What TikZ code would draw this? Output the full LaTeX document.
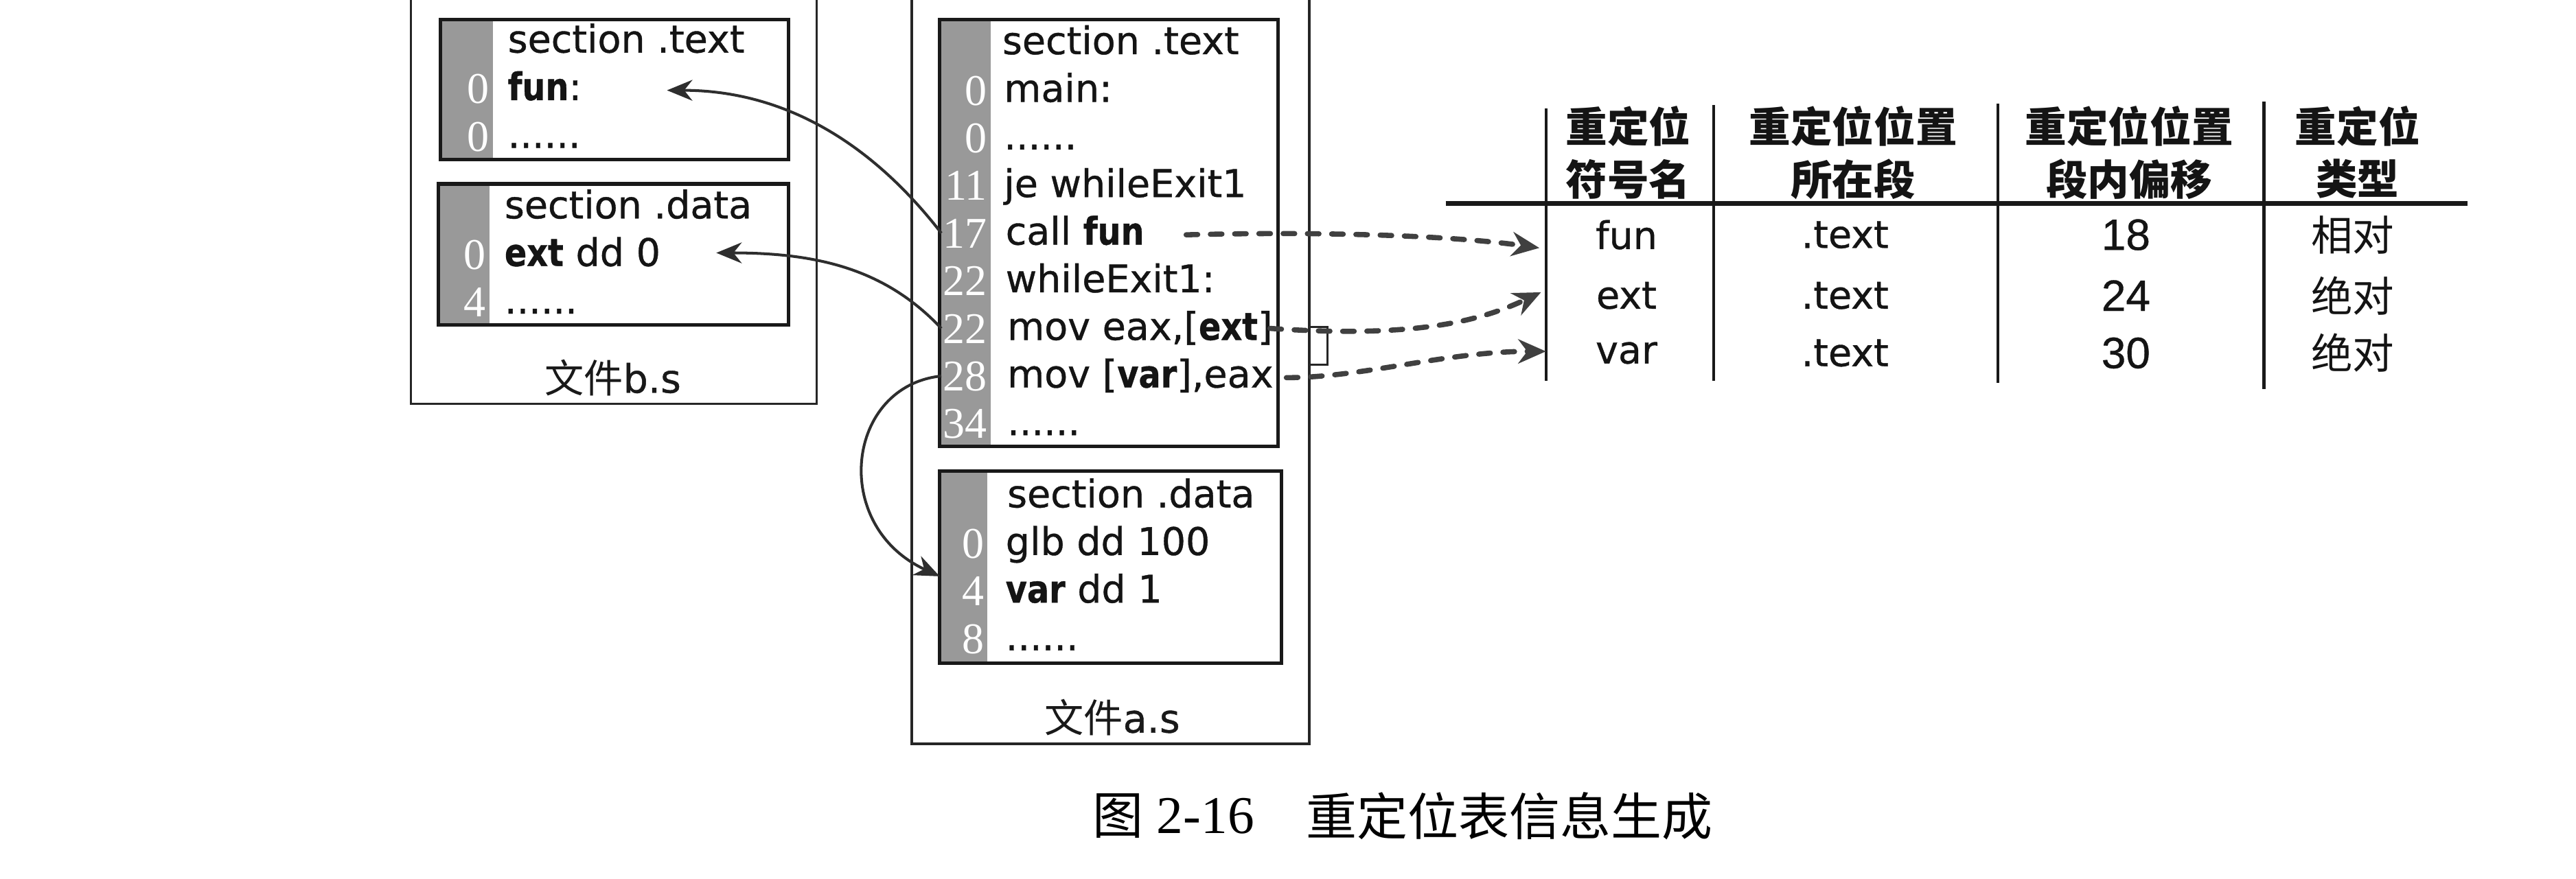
\documentclass[tikz,border=0pt]{standalone}
\usepackage{fontspec}
\usetikzlibrary{arrows.meta}
\setmainfont{DejaVu Sans}[FakeBold=0.7]
\newfontfamily\cjk{Noto Sans CJK SC}
\newfontfamily\numfont{Liberation Serif}
\newfontfamily\digfont{Liberation Sans}[FakeBold=0.6]
% narrow bold for highlighted symbols inside code lines
\newcommand\bsym[1]{\scalebox{0.86}[1]{\textbf{#1}}}

\tikzset{
  filebox/.style={draw=black!85, line width=2pt},
  secbox/.style={draw=black!90, line width=3pt},
  stripe/.style={fill=black!40},
  code/.style={anchor=base west, inner sep=0pt, text=black!92,
    font=\fontsize{33}{36}\selectfont},
  lineno/.style={anchor=base east, inner sep=0pt, text=white,
    font=\numfont\fontsize{38}{40}\selectfont},
  caplabel/.style={inner sep=0pt, text=black!90,
    font=\fontsize{34}{36}\selectfont},
  head/.style={inner sep=0pt, text=black!92,
    font=\cjk\bfseries\fontsize{36}{38}\selectfont},
  cell/.style={inner sep=0pt, text=black!92,
    font=\fontsize{33}{36}\selectfont},
  cjkcell/.style={inner sep=0pt, text=black!92,
    font=\cjk\fontsize{36}{38}\selectfont},
  numcell/.style={inner sep=0pt, text=black!92,
    font=\digfont\fontsize{38}{40}\selectfont},
  tabrule/.style={draw=black!90, line width=4pt},
  tabcol/.style={draw=black!90, line width=2.6pt},
  link/.style={draw=black!82, line width=2.4pt,
    -{Stealth[length=22pt,width=18pt]}},
  reloc/.style={draw=black!75, line width=4.5pt, line cap=round,
    dash pattern=on 10pt off 11pt,
    -{Stealth[length=24pt,width=21pt]}},
}

\begin{document}
\begin{tikzpicture}[x=0.5mm,y=-0.5mm]
\useasboundingbox (0,0) rectangle (1568,535);
\fill[white] (0,0) rectangle (1568,535);
\begin{scope}
\clip (0,0) rectangle (1568,535);

% ---------- file b.s ----------
\draw[filebox] (250,-10) rectangle (497,246);
\fill[stripe] (268,12) rectangle (300,97);
\draw[secbox] (268,12) rectangle (480,97);
\fill[stripe] (267,112) rectangle (298,198);
\draw[secbox] (267,112) rectangle (480,198);

\node[code] (bt0) at (309,32) {section .text};
\node[code] (bt1) at (309,61) {\bsym{fun}:};
\node[code] (bt2) at (309,90) {......};
\node[lineno] (bn1) at (298,63) {0};
\node[lineno] (bn2) at (298,92) {0};

\node[code] (bd0) at (307,133) {section .data};
\node[code] (bd1) at (307,162) {\bsym{ext} dd 0};
\node[code] (bd2) at (307,191) {......};
\node[lineno] (bm1) at (296,164) {0};
\node[lineno] (bm2) at (296,193) {4};

\node[caplabel] (bname) at (373,230) {{\cjk 文件}b.s};

% ---------- file a.s ----------
\draw[filebox] (555,-10) rectangle (797,453);
\fill[stripe] (572,12) rectangle (603,272);
\draw[secbox] (572,12) rectangle (778,272);
\fill[stripe] (572,287) rectangle (601,404);
\draw[secbox] (572,287) rectangle (780,404);

\node[code] (at0) at (610,33) {section .text};
\node[code] (at1) at (611,62) {main:};
\node[code] (at2) at (611,91) {......};
\node[code] (at3) at (611,120) {je whileExit1};
\node[code] (at4) at (612,149) {call \bsym{fun}};
\node[code] (at5) at (612,178) {whileExit1:};
\node[code] (at6) at (613,207) {mov eax,[\bsym{ext}]};
\node[code] (at7) at (613,236) {mov [\bsym{var}],eax};
\node[code] (at8) at (613,265) {......};

\node[lineno] (an1) at (601,64) {0};
\node[lineno] (an2) at (601,93) {0};
\node[lineno] (an3) at (601,122) {11};
\node[lineno] (an4) at (601,151) {17};
\node[lineno] (an5) at (601,180) {22};
\node[lineno] (an6) at (601,209) {22};
\node[lineno] (an7) at (601,238) {28};
\node[lineno] (an8) at (601,267) {34};

\node[code] (ad0) at (613,309) {section .data};
\node[code] (ad1) at (612,338) {glb dd 100};
\node[code] (ad2) at (612,367) {\bsym{var} dd 1};
\node[code] (ad3) at (612,396) {......};
\node[lineno] (am1) at (599,340) {0};
\node[lineno] (am2) at (599,369) {4};
\node[lineno] (am3) at (599,398) {8};

\node[caplabel] (aname) at (677,437) {{\cjk 文件}a.s};

% small marker box beside the ext reference
\draw[draw=black!85, line width=1.6pt] (797,199) rectangle (808,222);

% ---------- relocation table ----------
\draw[tabrule] (880,124) -- (1502,124);
\draw[tabcol] (941,66) -- (941,232);
\draw[tabcol] (1043,64) -- (1043,232);
\draw[tabcol] (1216,63) -- (1216,233);
\draw[tabcol] (1378,62) -- (1378,237);

\node[head] (h1a) at (991,77) {重定位};
\node[head] (h1b) at (991,109) {符号名};
\node[head] (h2a) at (1128,77) {重定位位置};
\node[head] (h2b) at (1128,109) {所在段};
\node[head] (h3a) at (1296,77) {重定位位置};
\node[head] (h3b) at (1296,109) {段内偏移};
\node[head] (h4a) at (1435,77) {重定位};
\node[head] (h4b) at (1435,109) {类型};

\node[cell] (r1c1) at (990,143) {fun};
\node[cell] (r2c1) at (990,180) {ext};
\node[cell] (r3c1) at (990,215) {var};
\node[cell] (r1c2) at (1123,143) {.text};
\node[cell] (r2c2) at (1123,180) {.text};
\node[cell] (r3c2) at (1123,215) {.text};
\node[numcell] (r1c3) at (1294,143) {18};
\node[numcell] (r2c3) at (1294,180) {24};
\node[numcell] (r3c3) at (1294,215) {30};
\node[cjkcell] (r1c4) at (1432,143) {相对};
\node[cjkcell] (r2c4) at (1432,180) {绝对};
\node[cjkcell] (r3c4) at (1432,215) {绝对};

% ---------- references into file b.s and the data section ----------
\coordinate (src17) at (573,142);
\coordinate (src22) at (573,200);
\coordinate (src28) at (573,229);
\coordinate (dstfun) at (406,55);
\coordinate (dstext) at (436,154);
\coordinate (dstvar) at (572,351);

\draw[link] (src17) .. controls (525,80) and (470,55) .. (dstfun);
\draw[link] (src22) .. controls (540,165) and (500,154) .. (dstext);
\draw[link] (src28) .. controls (515,235) and (505,320) .. (dstvar);

% ---------- relocation entries ----------
\coordinate (relfun) at (722,143);
\coordinate (relext) at (773,200);
\coordinate (relvar) at (783,230);
\coordinate (rowfun) at (937,151);
\coordinate (rowext) at (938,178);
\coordinate (rowvar) at (941,214);

\draw[reloc] (relfun) .. controls (800,141) and (880,143) .. (rowfun);
\draw[reloc] (relext) .. controls (860,206) and (900,196) .. (rowext);
\draw[reloc] (relvar) .. controls (830,230) and (880,214) .. (rowvar);

% ---------- caption ----------
\node[anchor=west, inner sep=0pt, font=\cjk\fontsize{44}{46}\selectfont] (fig) at (665,497) {图};
\node[anchor=west, inner sep=0pt, font=\numfont\fontsize{46}{48}\selectfont] (fignum) at (704,497) {2-16};
\node[anchor=west, inner sep=0pt, font=\cjk\fontsize{44}{46}\selectfont] (figtitle) at (795,497) {重定位表信息生成};
\end{scope}
\end{tikzpicture}
\end{document}
